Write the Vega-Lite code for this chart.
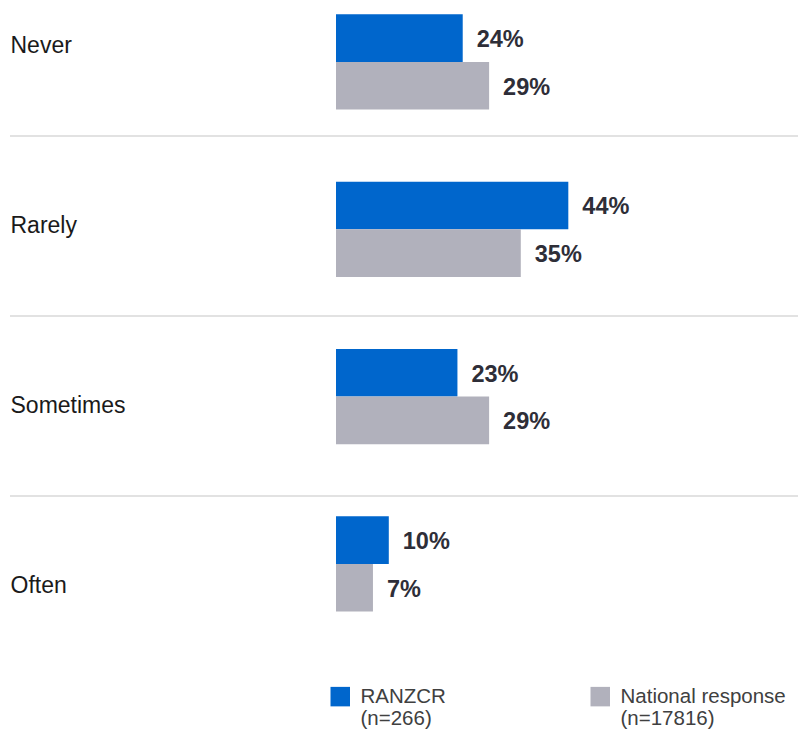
{
  "$schema": "https://vega.github.io/schema/vega-lite/v6.json",
  "width": 788,
  "height": 731,
  "autosize": {"type": "none"},
  "padding": {"left": 10, "top": 0, "right": 0, "bottom": 0},
  "background": "white",
  "config": {"view": {"stroke": null}, "font": "Liberation Sans"},
  "data": {
    "values": [
      {"category": "Never", "series": "RANZCR", "value": 0.24},
      {"category": "Never", "series": "National response", "value": 0.29},
      {"category": "Rarely", "series": "RANZCR", "value": 0.44},
      {"category": "Rarely", "series": "National response", "value": 0.35},
      {"category": "Sometimes", "series": "RANZCR", "value": 0.23},
      {"category": "Sometimes", "series": "National response", "value": 0.29},
      {"category": "Often", "series": "RANZCR", "value": 0.10},
      {"category": "Often", "series": "National response", "value": 0.07}
    ]
  },
  "layer": [
    {
      "transform": [{"filter": "datum.series == 'RANZCR' && datum.category != 'Never'"}],
      "mark": {"type": "rule", "color": "#d9d9d9", "strokeWidth": 1.5},
      "encoding": {
        "y": {
          "field": "category",
          "type": "nominal",
          "bandPosition": 0,
          "scale": {"domain": ["Never", "Rarely", "Sometimes", "Often"], "range": [-44, 676], "paddingInner": 0, "paddingOuter": 0},
          "axis": {"title": null, "domain": false, "ticks": false, "grid": false, "labelAlign": "left", "labelPadding": 0, "labelFontSize": 23, "labelColor": "#1a1a1a", "labelFont": "Liberation Sans", "labelBaseline": "middle"}
        }
      }
    },
    {
      "encoding": {
        "y": {
          "field": "category",
          "type": "nominal",
          "scale": {"domain": ["Never", "Rarely", "Sometimes", "Often"], "range": [-21.7, 647.6], "paddingInner": 0, "paddingOuter": 0},
          "axis": null
        },
        "yOffset": {
          "field": "series",
          "type": "nominal",
          "scale": {"domain": ["RANZCR", "National response"], "paddingInner": 0, "paddingOuter": 0.758}
        },
        "x": {
          "field": "value",
          "type": "quantitative",
          "scale": {"domain": [0, 0.875], "range": [326, 788], "nice": false},
          "axis": null
        }
      },
      "layer": [
        {
          "mark": {"type": "bar"},
          "encoding": {
            "color": {
              "field": "series",
              "type": "nominal",
              "scale": {"domain": ["RANZCR", "National response"], "range": ["#0066CC", "#B1B1BC"]},
              "legend": {
                "orient": "none",
                "legendX": 320,
                "legendY": 686,
                "direction": "horizontal",
                "title": null,
                "symbolType": "square",
                "symbolSize": 380,
                "symbolStrokeWidth": 0,
                "labelFontSize": 20.5,
                "labelColor": "#404040",
                "labelFont": "Liberation Sans",
                "labelOffset": 10,
                "columnPadding": 144,
                "labelLimit": 300,
                "padding": 0,
                "labelExpr": "datum.label == 'RANZCR' ? ['RANZCR', '(n=266)'] : ['National response', '(n=17816)']"
              }
            }
          }
        },
        {
          "mark": {"type": "text", "align": "left", "dx": 14, "dy": 2, "fontSize": 23.5, "fontWeight": "bold", "color": "#2e2e38", "baseline": "middle", "font": "Liberation Sans"},
          "encoding": {
            "text": {"field": "value", "type": "quantitative", "format": ".0%"}
          }
        }
      ]
    }
  ],
  "resolve": {"scale": {"y": "independent"}}
}
